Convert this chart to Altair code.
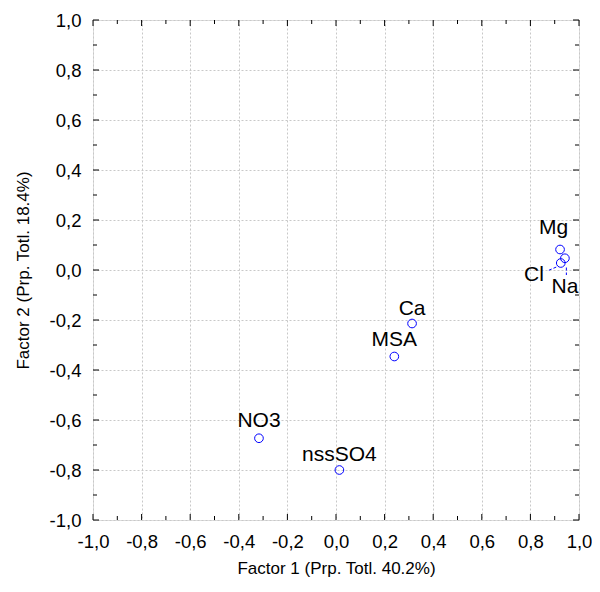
import altair as alt
import pandas as pd
import numpy as np

# Variable loadings (Factor 1, Factor 2)
names = ["Mg", "Na", "Cl", "Ca", "MSA", "NO3", "nssSO4"]
f1 = [0.922, 0.942, 0.925, 0.313, 0.24, -0.317, 0.014]
f2 = [0.082, 0.047, 0.028, -0.214, -0.346, -0.673, -0.80]

# label anchor positions (data units)
label_names = ["Mg", "Na", "Cl", "Ca", "MSA", "NO3", "nssSO4"]
label_x = [0.895, 0.942, 0.815, 0.313, 0.24, -0.317, 0.014]
label_y = [0.17, -0.068, -0.018, -0.157, -0.28, -0.605, -0.74]

# leader lines (from, to) for Cl and Na
lead_x = [0.876, 0.948]
lead_y = [-0.001, 0.010]
lead_x2 = [0.912, 0.948]
lead_y2 = [0.014, -0.020]

tick_vals = [round(v, 1) for v in np.arange(-1.0, 1.01, 0.2)]
minor_vals = [round(v, 1) for v in np.arange(-0.9, 0.91, 0.2)]

W, H = 486, 500
FONT = "Liberation Sans"
LBL = "replace(replace(datum.label, '.', ','), '\u2212', '-')"

pts = pd.DataFrame({"name": names, "f1": f1, "f2": f2})
labs = pd.DataFrame({"name": label_names, "lx": label_x, "ly": label_y})
leads = pd.DataFrame({"x": lead_x, "y": lead_y, "x2": lead_x2, "y2": lead_y2})

xs = alt.Scale(domain=[-1, 1], nice=False, zero=False)
ys = alt.Scale(domain=[-1, 1], nice=False, zero=False)

common = dict(values=tick_vals, format=".1f", labelExpr=LBL, grid=True,
              gridColor="#c8c8c8", gridDash=[2, 2], gridWidth=1, ticks=False,
              domain=False, labelOverlap=False, labelFlush=False, labelFont=FONT,
              labelFontSize=18.5, labelColor="black", labelPadding=12, titleFont=FONT,
              titleFontSize=17, titleFontWeight="normal", titleColor="black")
xaxis = alt.Axis(title="Factor 1 (Prp. Totl. 40.2%)", titlePadding=10, **common)
yaxis = alt.Axis(title="Factor 2 (Prp. Totl. 18.4%)", titlePadding=17, **common)

points = alt.Chart(pts).mark_point(shape="circle", filled=False, size=75, color="#0000ff",
                                   strokeWidth=1, opacity=1).encode(
    x=alt.X("f1:Q", scale=xs, axis=xaxis),
    y=alt.Y("f2:Q", scale=ys, axis=yaxis),
)

labels = alt.Chart(labs).mark_text(font=FONT, fontSize=21, color="black",
                                   align="center", baseline="middle").encode(
    x=alt.X("lx:Q", scale=xs), y=alt.Y("ly:Q", scale=ys), text="name:N")

leaders = alt.Chart(leads).mark_rule(color="#0000ff", strokeDash=[3, 2], strokeWidth=1).encode(
    x=alt.X("x:Q", scale=xs), y=alt.Y("y:Q", scale=ys),
    x2="x2:Q", y2="y2:Q")

major_df = pd.DataFrame({"v": tick_vals})
minor_df = pd.DataFrame({"v": minor_vals})

tick_layers = []
for df, ln in [(major_df, 6), (minor_df, 4)]:
    c = alt.Chart(df)
    tick_layers.append(c.mark_rule(color="black", strokeWidth=1).encode(
        x=alt.X("v:Q", scale=xs), y=alt.value(H), y2=alt.value(H - ln)))
    tick_layers.append(c.mark_rule(color="black", strokeWidth=1).encode(
        x=alt.X("v:Q", scale=xs), y=alt.value(0), y2=alt.value(ln)))
    tick_layers.append(c.mark_rule(color="black", strokeWidth=1).encode(
        y=alt.Y("v:Q", scale=ys), x=alt.value(0), x2=alt.value(ln)))
    tick_layers.append(c.mark_rule(color="black", strokeWidth=1).encode(
        y=alt.Y("v:Q", scale=ys), x=alt.value(W), x2=alt.value(W - ln)))

chart = alt.layer(points, leaders, labels, *tick_layers).properties(
    width=W, height=H,
    autosize=alt.AutoSizeParams(type="none"),
    padding={"left": 85, "top": 12, "right": 13, "bottom": 64},
).configure_view(stroke="black", strokeWidth=1).configure(background="white")

chart.save("out.html", embed_options={"renderer": "svg", "actions": False})
